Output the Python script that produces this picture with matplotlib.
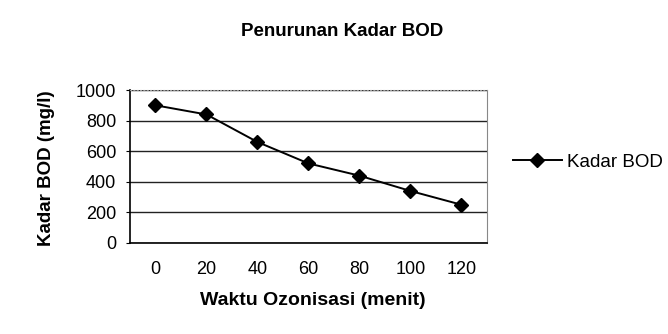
import numpy as np
import matplotlib.pyplot as plt

plt.rcParams['font.family'] = ['Liberation Sans', 'DejaVu Sans']

# waktu ozonisasi (menit) and measured BOD (mg/l)
waktu = ['0', '20', '40', '60', '80', '100', '120']
kadar_bod = [900, 840, 660, 520, 440, 340, 250]

fig = plt.figure(figsize=(6.68, 3.34), dpi=100)
ax = fig.add_axes([0.1946, 0.2725, 0.5344, 0.458])

x = np.arange(len(waktu))
ax.plot(x, kadar_bod, color='black', linewidth=1.4, marker='D',
        markersize=7, label='Kadar BOD')

ax.set_xlim(-0.5, len(waktu) - 0.5)
ax.set_ylim(0, 1000)
ax.set_yticks(range(0, 1001, 200))
ax.set_xticks(x)
ax.set_xticklabels(waktu)
ax.tick_params(axis='x', length=0, pad=13, labelsize=13)
ax.tick_params(axis='y', length=3, direction='out', pad=7, labelsize=13)

ax.grid(axis='y', color='#222222', linewidth=1.0)
ax.set_axisbelow(True)
ax.spines['top'].set_color('#999999')
ax.spines['top'].set_linestyle((0, (1, 2)))
ax.spines['top'].set_linewidth(0.8)
ax.spines['right'].set_color('#888888')
ax.spines['right'].set_linewidth(0.8)
for side in ['left', 'bottom']:
    ax.spines[side].set_linewidth(1.2)

fig.text(342 / 668, 1 - 32 / 334, 'Penurunan Kadar BOD', ha='center',
         va='center', fontsize=13.5, fontweight='bold')

ax.set_xlabel('Waktu Ozonisasi (menit)', fontsize=14, fontweight='bold')
ax.xaxis.set_label_coords(0.513, -0.373)
ax.xaxis.label.set_va('center')
ax.set_ylabel('Kadar BOD (mg/l)', fontsize=13.5, fontweight='bold')
ax.yaxis.set_label_coords(-0.2325, 0.49)
ax.yaxis.label.set_va('center')

fig.legend(loc='center left', bbox_to_anchor=(513 / 668, 1 - 162 / 334),
           frameon=False, fontsize=13.5, handlelength=2.6,
           handletextpad=0.3, borderpad=0, borderaxespad=0)

fig.savefig('out.png', dpi=100)
